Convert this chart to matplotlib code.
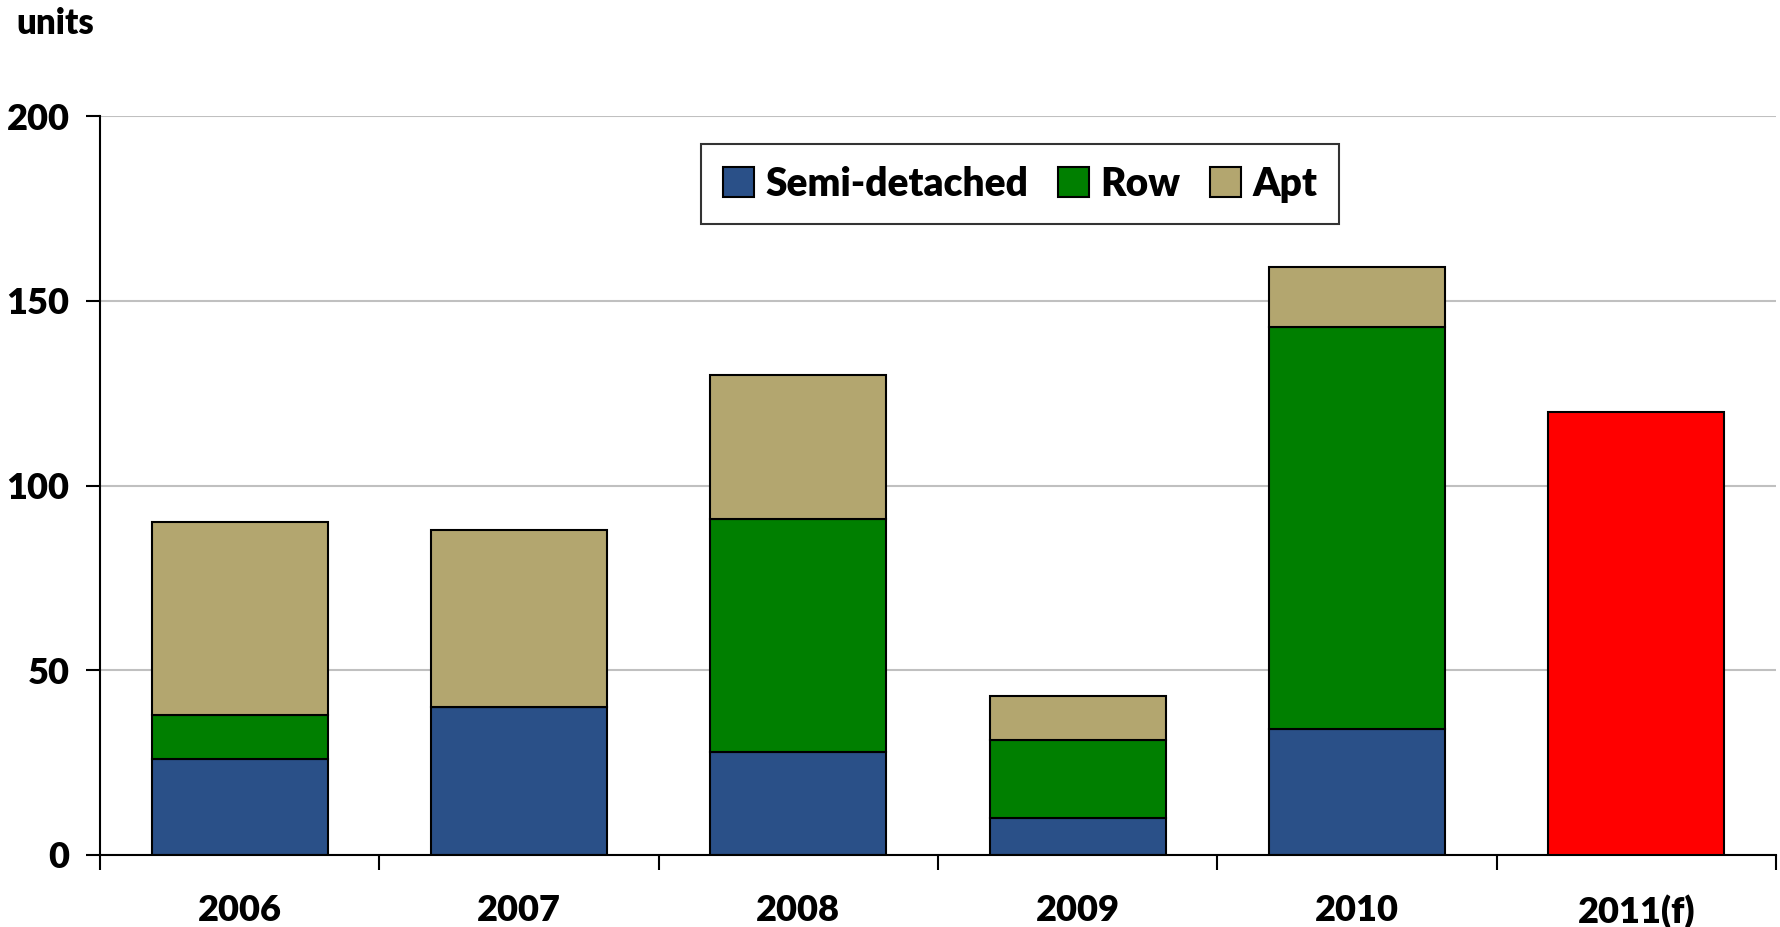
import numpy as np
import matplotlib
matplotlib.use("Agg")
import matplotlib.pyplot as plt

# data
years = ["2006", "2007", "2008", "2009", "2010", "2011(f)"]
semi = [26, 40, 28, 10, 34, 0]
row = [12, 0, 63, 21, 109, 0]
apt = [52, 48, 39, 12, 16, 0]
forecast = [0, 0, 0, 0, 0, 120]

plt.rcParams["font.family"] = ["Lato", "DejaVu Sans"]
WT = "heavy"

fig = plt.figure(figsize=(17.8, 9.27), dpi=100)
ax = fig.add_axes([100 / 1780, 1 - 855 / 927, 1676 / 1780, 739 / 927])

x = np.arange(len(years))
w = 0.63
semi = np.array(semi)
row = np.array(row)
apt = np.array(apt)
kw = dict(width=w, edgecolor="black", linewidth=1.5, zorder=3)

ax.bar(x, semi, color="#2a5088", label="Semi-detached", **kw)
ax.bar(x, row, bottom=semi, color="#007f00", label="Row", **kw)
ax.bar(x, apt, bottom=semi + row, color="#b3a66f", label="Apt", **kw)
ax.bar(x, forecast, color="#ff0000", **kw)

ax.set_xlim(-0.5, len(years) - 0.5)
ax.set_ylim(0, 200)
ax.set_yticks([0, 50, 100, 150, 200])
ax.yaxis.grid(True, color="#c0c0c0", linewidth=1.5, zorder=0)
ax.set_axisbelow(True)

# category labels centred, ticks between categories
ax.set_xticks(x)
ax.set_xticklabels(years, fontsize=26, fontweight=WT)
ax.tick_params(axis="x", which="major", length=0, pad=28)
ax.set_xticks(np.arange(-0.5, len(years)), minor=True)
ax.tick_params(axis="x", which="minor", length=11, width=1.5, direction="out")
ax.tick_params(axis="y", length=10, width=1.5, direction="out", labelsize=26, pad=12)
for lab in ax.get_yticklabels():
    lab.set_fontweight(WT)

for s in ["top", "right"]:
    ax.spines[s].set_visible(False)
for s in ["left", "bottom"]:
    ax.spines[s].set_linewidth(1.5)

fig.text(16 / 1780, 1 - 24 / 927, "units", fontsize=25, fontweight=WT, va="center")

leg = ax.legend(loc="upper center", bbox_to_anchor=(0.549, 0.988), ncol=3, fontsize=28,
                frameon=True, fancybox=False, edgecolor="black", handlelength=0.8,
                handleheight=0.8, handletextpad=0.3, columnspacing=0.75, borderpad=0.55)
leg.get_frame().set_linewidth(1.5)
for t in leg.get_texts():
    t.set_fontweight(WT)

fig.savefig("out.png", dpi=100)
